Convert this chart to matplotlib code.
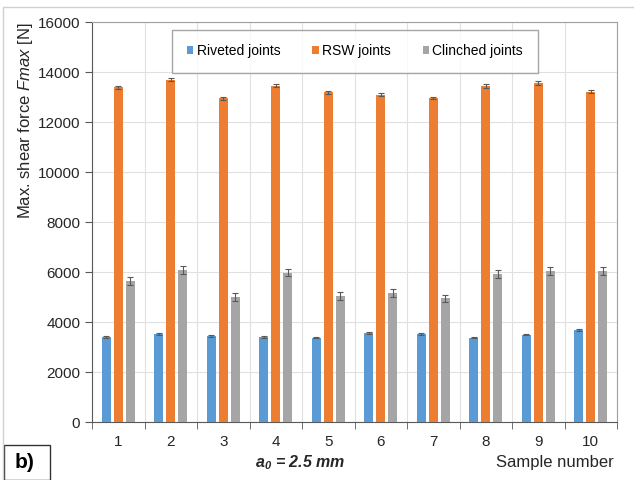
import matplotlib
matplotlib.use('Agg')
import matplotlib.pyplot as plt
import numpy as np
from matplotlib.patches import Rectangle

plt.rcParams['font.family'] = ['Liberation Sans', 'DejaVu Sans']
plt.rcParams['mathtext.fontset'] = 'custom'
plt.rcParams['mathtext.rm'] = 'Liberation Sans'
plt.rcParams['mathtext.it'] = 'Liberation Sans:italic'
plt.rcParams['mathtext.bf'] = 'Liberation Sans:bold:italic'

samples = ['1', '2', '3', '4', '5', '6', '7', '8', '9', '10']
riveted = [3390, 3510, 3460, 3420, 3380, 3560, 3510, 3380, 3500, 3700]
riveted_err = [40, 40, 40, 40, 30, 40, 40, 30, 30, 40]
rsw = [13400, 13690, 12950, 13450, 13200, 13100, 12970, 13450, 13560, 13220]
rsw_err = [60, 60, 60, 60, 60, 60, 50, 70, 70, 50]
clinched = [5650, 6100, 5000, 5980, 5060, 5180, 4950, 5910, 6030, 6030]
clinched_err = [160, 160, 160, 150, 160, 160, 150, 160, 160, 160]

fig = plt.figure(figsize=(6.34, 4.8), dpi=100)
ax = fig.add_axes([92 / 634, 1 - 422 / 480, 525 / 634, 400 / 480])

x = np.arange(len(samples))
w = 0.17
off = 0.225
err_kw = dict(ecolor='#595959', elinewidth=0.8, capsize=2.5, capthick=0.8)
ax.bar(x - off, riveted, w, yerr=riveted_err, color='#5B9BD5', label='Riveted joints', error_kw=err_kw, zorder=3)
ax.bar(x, rsw, w, yerr=rsw_err, color='#ED7D31', label='RSW joints', error_kw=err_kw, zorder=3)
ax.bar(x + off, clinched, w, yerr=clinched_err, color='#A5A5A5', label='Clinched joints', error_kw=err_kw, zorder=3)

ax.set_xlim(-0.5, len(samples) - 0.5)
ax.set_ylim(0, 16000)
ax.set_yticks(np.arange(0, 16001, 2000))
ax.set_xticks(x)
ax.set_xticklabels(samples)
ax.set_xticks(np.arange(-0.5, len(samples), 1), minor=True)
ax.tick_params(axis='x', which='major', length=0, labelsize=11, pad=9, colors='#262626')
ax.tick_params(axis='x', which='minor', length=5, color='#595959')
ax.tick_params(axis='y', length=5, labelsize=11, colors='#262626', color='#595959')
ax.grid(axis='y', color='#e0e0e0', linewidth=0.8, zorder=0)
ax.grid(axis='x', which='minor', color='#e0e0e0', linewidth=0.8, zorder=0)
for s in ['top', 'right']:
    ax.spines[s].set_color('#a0a0a0')
for s in ['left', 'bottom']:
    ax.spines[s].set_color('#595959')

ax.set_ylabel('Max. shear force $\\mathit{Fmax}$ [N]', fontsize=12, color='#262626', labelpad=2, loc='top')

leg = ax.legend(loc='upper center', bbox_to_anchor=(0.501, 0.9985), ncol=3, fontsize=10,
                frameon=True, fancybox=False, edgecolor='#909090', handlelength=0.45, handleheight=0.45,
                handletextpad=0.25, columnspacing=2.3, borderpad=1.05, borderaxespad=0.5)
leg.get_frame().set_linewidth(1.0)

fig.text(300 / 634, 1 - 463 / 480, '$\\mathbf{a_0}$ = 2.5 mm', fontsize=11.5, weight='bold',
         style='italic', ha='center', va='center', color='#262626')
fig.text(614 / 634, 1 - 463 / 480, 'Sample number', fontsize=12, ha='right', va='center', color='#262626')
fig.text(25 / 634, 1 - 463 / 480, 'b)', fontsize=15, weight='bold', ha='center', va='center')
fig.add_artist(Rectangle((4 / 634, 1 - 480 / 480), 46 / 634, 35 / 480, transform=fig.transFigure,
                         fill=False, edgecolor='#333333', linewidth=1.0))
fig.add_artist(Rectangle((3 / 634, -0.01), 1.0, 1 - 7 / 480 + 0.01, transform=fig.transFigure,
                         fill=False, edgecolor='#d0d0d0', linewidth=1.0))

plt.savefig('out.png', dpi=100)
